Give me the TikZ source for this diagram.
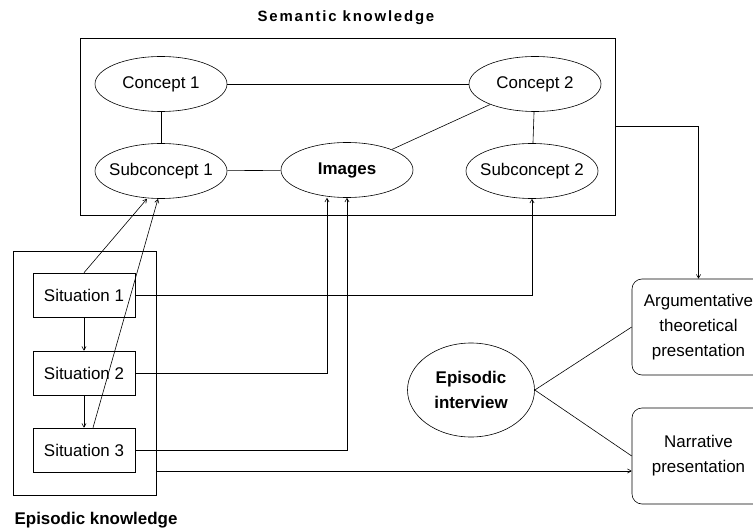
\documentclass[tikz,border=0pt]{standalone}
\usepackage{fontspec}
\setmainfont{Liberation Sans}
\usepackage{tikz}
\usetikzlibrary{arrows}
\usetikzlibrary{shapes}

\begin{document}
\begin{tikzpicture}[->,>=angle 60,semithick,x=1bp,y=-1bp,
                    font=\fontsize{17}{25}\selectfont]
  \tikzstyle{concept}=[ellipse,draw,minimum width=132bp,minimum height=55bp,
                       inner xsep=-6bp,inner ysep=0pt]
  \tikzstyle{situation}=[rectangle,draw,minimum width=102bp,minimum height=44bp]
  \tikzstyle{presentation}=[rectangle,draw,rounded corners=10bp,align=center,
                            minimum width=133bp,minimum height=96bp]
  \tikzstyle{frame}=[rectangle,draw]
  \tikzstyle{strong}=[font=\fontsize{17}{25}\selectfont\bfseries]

  \useasboundingbox (0,0) rectangle (753,531);
  \clip (0,0) rectangle (753,531);

  % semantic side
  \node (semtitle) at (346,18)
    [font=\fontsize{15}{18}\selectfont\bfseries\addfontfeature{LetterSpace=12}]
    {Semantic knowledge};
  \node[frame,minimum width=535bp,minimum height=177bp] (sem) at (347.5,126.5) {};
  \node[concept]        (c1)  at (161,84)  {Concept 1};
  \node[concept]        (c2)  at (535,84)  {Concept 2};
  \node[concept]        (sc1) at (161,171) {Subconcept 1};
  \node[concept,strong] (img) at (347,170) {Images};
  \node[concept]        (sc2) at (532,171) {Subconcept 2};

  % episodic side
  \node[frame,minimum width=143bp,minimum height=244bp] (epi) at (84.5,373) {};
  \node[situation] (s1) at (84,295) {Situation 1};
  \node[situation] (s2) at (84,373) {Situation 2};
  \node[situation] (s3) at (84,450) {Situation 3};
  \node[strong,anchor=west] (epititle) at (11,520) {Episodic knowledge};

  % interview and presentations
  \node[concept,strong,align=center,minimum width=127bp,minimum height=94bp]
    (intv) at (471,390) {Episodic\\interview};
  \node[presentation] (arg) at (698.5,327) {Argumentative\\theoretical\\presentation};
  \node[presentation] (nar) at (698.5,456) {Narrative\\presentation};

  \path (c1)  edge[-] (c2)
        (c1)  edge[-] (sc1)
        (c2)  edge[-] (sc2)
        (c2)  edge[-] (img)
        (sc1) edge[-] (img)
        (intv.east) edge[-] (arg.west)
        (intv.east) edge[-] (nar.west);

  \draw (s1.north) -- ([xshift=-14bp]sc1.south);
  \draw ([xshift=9bp]s3.north) -- ([xshift=-3bp]sc1.south);
  \draw (s1) -- (s2);
  \draw (s2) -- (s3);
  \draw (s1.east) -| (sc2.south);
  \draw (s2.east) -| ([xshift=-20bp]img.south);
  \draw (s3.east) -| (img.south);
  \draw (sem.east) -| (arg.north);
  \coordinate (epiout) at (epi.east |- 0,471);
  \draw (epiout) -- (epiout -| nar.west);
\end{tikzpicture}
\end{document}
